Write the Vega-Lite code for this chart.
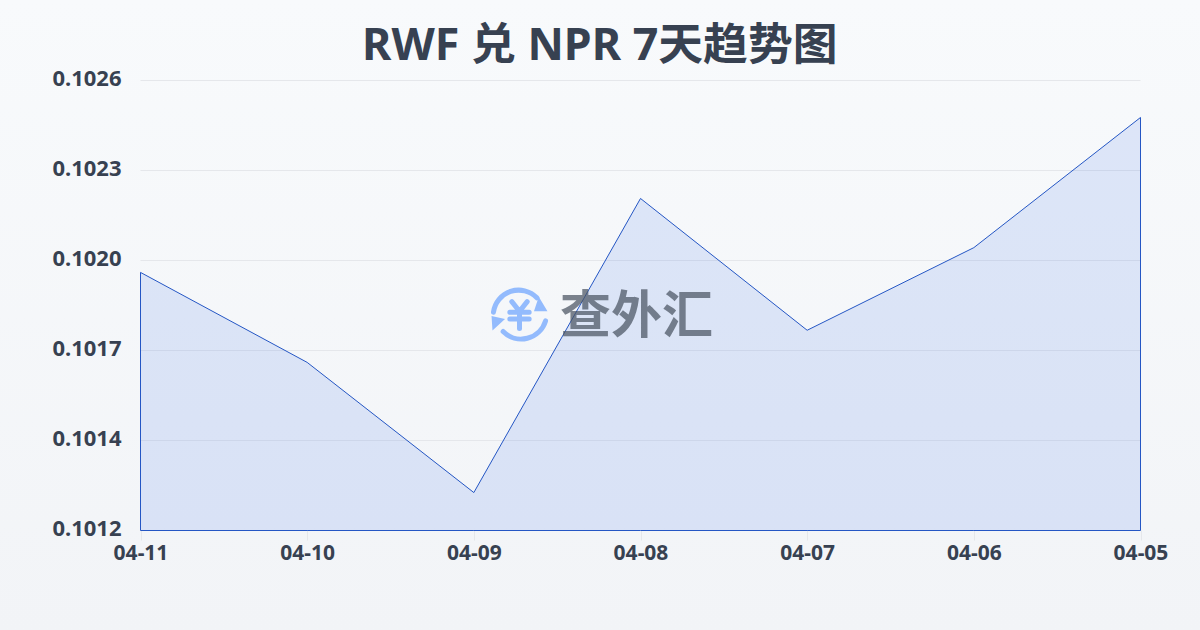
{"$schema":"https://vega.github.io/schema/vega-lite/v6.json","width":1200,"height":630,"autosize":{"type":"none"},"padding":0,"background":"#f5f7fa","config":{"view":{"stroke":null,"fill":{"gradient":"linear","x1":0,"y1":0,"x2":0,"y2":1,"stops":[{"offset":0,"color":"#f8fafc"},{"offset":1,"color":"#f2f4f7"}]}}},"title":{"text":"RWF 兑 NPR 7天趋势图","font":"Noto Sans, Noto Sans CJK SC","fontSize":44.8,"fontWeight":700,"color":"#374151","anchor":"start","frame":"group","dx":362,"offset":-114,"baseline":"bottom"},"data":{"values":[{"date":"04-11","rate":0.101963},{"date":"04-10","rate":0.101683},{"date":"04-09","rate":0.101278},{"date":"04-08","rate":0.102193},{"date":"04-07","rate":0.101783},{"date":"04-06","rate":0.10204},{"date":"04-05","rate":0.102445}]},"layer":[{"data":{"values":[{"rate":0.10116},{"rate":0.10144},{"rate":0.10172},{"rate":0.102},{"rate":0.10228},{"rate":0.10256}]},"mark":{"type":"rule","color":"#e5e7eb","strokeWidth":1},"encoding":{"x":{"datum":"04-11","type":"ordinal"},"x2":{"datum":"04-05"},"y":{"field":"rate","type":"quantitative"}}},{"mark":{"type":"area","fill":"#2563eb","fillOpacity":0.125,"stroke":"#2456c4","strokeWidth":1,"strokeOpacity":1,"interpolate":"linear"},"encoding":{"x":{"field":"date","type":"ordinal","sort":null,"title":null,"scale":{"type":"point","padding":0,"range":[140.5,1140.5],"domain":["04-11","04-10","04-09","04-08","04-07","04-06","04-05"]},"axis":{"labelAngle":0,"labelAlign":"center","labelBaseline":"top","labelFont":"Noto Sans","labelFontWeight":700,"labelFontSize":21,"labelColor":"#374151","labelPadding":2,"tickColor":"#e5e7eb","tickSize":10,"domain":false,"grid":false,"offset":-100}},"y":{"field":"rate","type":"quantitative","title":null,"scale":{"domain":[0.10116,0.10256],"range":[530.5,80.5],"zero":false,"nice":false},"axis":{"values":[0.10116,0.10144,0.10172,0.102,0.10228,0.10256],"format":".4f","labelFont":"Noto Sans","labelFontWeight":700,"labelFontSize":22,"labelColor":"#374151","labelPadding":19,"labelOffset":-2,"tickSize":0,"domain":false,"grid":false,"offset":-140}},"y2":{"datum":0.10116}}},{"data":{"values":[{"date":"04-08","rate":0.10183,"label":"查外汇"}]},"mark":{"type":"text","font":"Noto Sans CJK SC","fontWeight":700,"fontSize":51,"color":"#4b5563","opacity":0.72,"align":"center","baseline":"middle","dx":-4,"dy":3},"encoding":{"x":{"field":"date","type":"ordinal"},"y":{"field":"rate","type":"quantitative"},"text":{"field":"label"}}},{"data":{"values":[{"date":"04-08","rate":0.10183}]},"mark":{"type":"point","filled":false,"size":13400,"xOffset":-121,"yOffset":-1,"stroke":"#93bbfd","strokeWidth":5,"strokeCap":"round","opacity":1,"shape":"M-.45 -.033A.44 .44 0 0 1 .3 -.283M.45 .117A.44 .44 0 0 1 -.283 .3M-.133 -.217L0 -.05L.133 -.217M-.167 -.033L.167 -.033M-.167 .083L.167 .083M0 -.05L0 .25"},"encoding":{"x":{"field":"date","type":"ordinal"},"y":{"field":"rate","type":"quantitative"}}},{"data":{"values":[{"date":"04-08","rate":0.10183}]},"mark":{"type":"point","filled":true,"size":13400,"xOffset":-121,"yOffset":-1,"fill":"#93bbfd","opacity":1,"shape":"M.333 -.3L.483 -.05L.25 -.05ZM-.483 .033L-.25 .083L-.467 .283Z"},"encoding":{"x":{"field":"date","type":"ordinal"},"y":{"field":"rate","type":"quantitative"}}}]}
